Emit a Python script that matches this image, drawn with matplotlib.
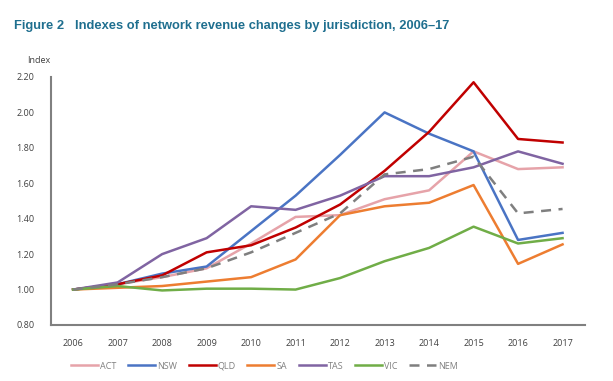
import matplotlib
matplotlib.use("Agg")
import matplotlib.pyplot as plt

years = [2006, 2007, 2008, 2009, 2010, 2011, 2012, 2013, 2014, 2015, 2016, 2017]

act = [1.00, 1.03, 1.07, 1.12, 1.26, 1.41, 1.42, 1.51, 1.56, 1.78, 1.68, 1.69]
nsw = [1.00, 1.03, 1.09, 1.13, 1.33, 1.53, 1.76, 2.00, 1.88, 1.78, 1.28, 1.32]
qld = [1.00, 1.03, 1.08, 1.21, 1.25, 1.35, 1.48, 1.67, 1.89, 2.17, 1.85, 1.83]
sa = [1.00, 1.01, 1.02, 1.045, 1.07, 1.17, 1.42, 1.47, 1.49, 1.59, 1.145, 1.255]
tas = [1.00, 1.04, 1.20, 1.29, 1.47, 1.45, 1.53, 1.64, 1.64, 1.69, 1.78, 1.71]
vic = [1.00, 1.02, 0.995, 1.005, 1.005, 1.00, 1.065, 1.16, 1.235, 1.355, 1.26, 1.29]
nem = [1.00, 1.03, 1.07, 1.12, 1.21, 1.32, 1.43, 1.65, 1.68, 1.75, 1.43, 1.455]

plt.rcParams['font.family'] = ['Open Sans', 'DejaVu Sans']

fig = plt.figure(figsize=(6.13, 3.81), dpi=100)
ax = fig.add_axes([0.083, 0.147, 0.871, 0.651])

lw = 1.8
ax.plot(years, act, color='#e6a3a9', lw=lw, label='ACT')
ax.plot(years, nsw, color='#4a74c4', lw=lw, label='NSW')
ax.plot(years, qld, color='#c00000', lw=lw, label='QLD')
ax.plot(years, sa, color='#ed7d31', lw=lw, label='SA')
ax.plot(years, tas, color='#8064a2', lw=lw, label='TAS')
ax.plot(years, vic, color='#70ad47', lw=lw, label='VIC')
ax.plot(years, nem, color='#7f7f7f', lw=lw, ls=(0, (4, 3)), label='NEM')

ax.set_ylim(0.80, 2.20)
ax.set_xlim(2005.5, 2017.5)
ax.set_yticks([0.8, 1.0, 1.2, 1.4, 1.6, 1.8, 2.0, 2.2])
ax.set_yticklabels(['%.2f' % v for v in ax.get_yticks()])
ax.set_xticks(years)
ax.tick_params(axis='both', length=0, labelsize=6.5, colors='#404040')
ax.tick_params(axis='x', pad=10)
ax.tick_params(axis='y', pad=12)
for s in ['top', 'right']:
    ax.spines[s].set_visible(False)
for s in ['left', 'bottom']:
    ax.spines[s].set_color('#808080')
    ax.spines[s].set_linewidth(1.5)

fig.text(0.045, 0.835, 'Index', fontsize=6.5, color='#404040')
fig.text(0.023, 0.925, 'Figure 2   Indexes of network revenue changes by jurisdiction, 2006\u201317',
         fontsize=9.3, fontweight='bold', color='#1f6f8f', family=['Liberation Sans', 'DejaVu Sans'])

ax.legend(loc='upper center', bbox_to_anchor=(0.40, -0.115), ncol=7, frameon=False,
          fontsize=6.5, labelcolor='#808080', handlelength=3, columnspacing=1.3,
          handletextpad=0.2)

fig.savefig('out.png', dpi=100)
